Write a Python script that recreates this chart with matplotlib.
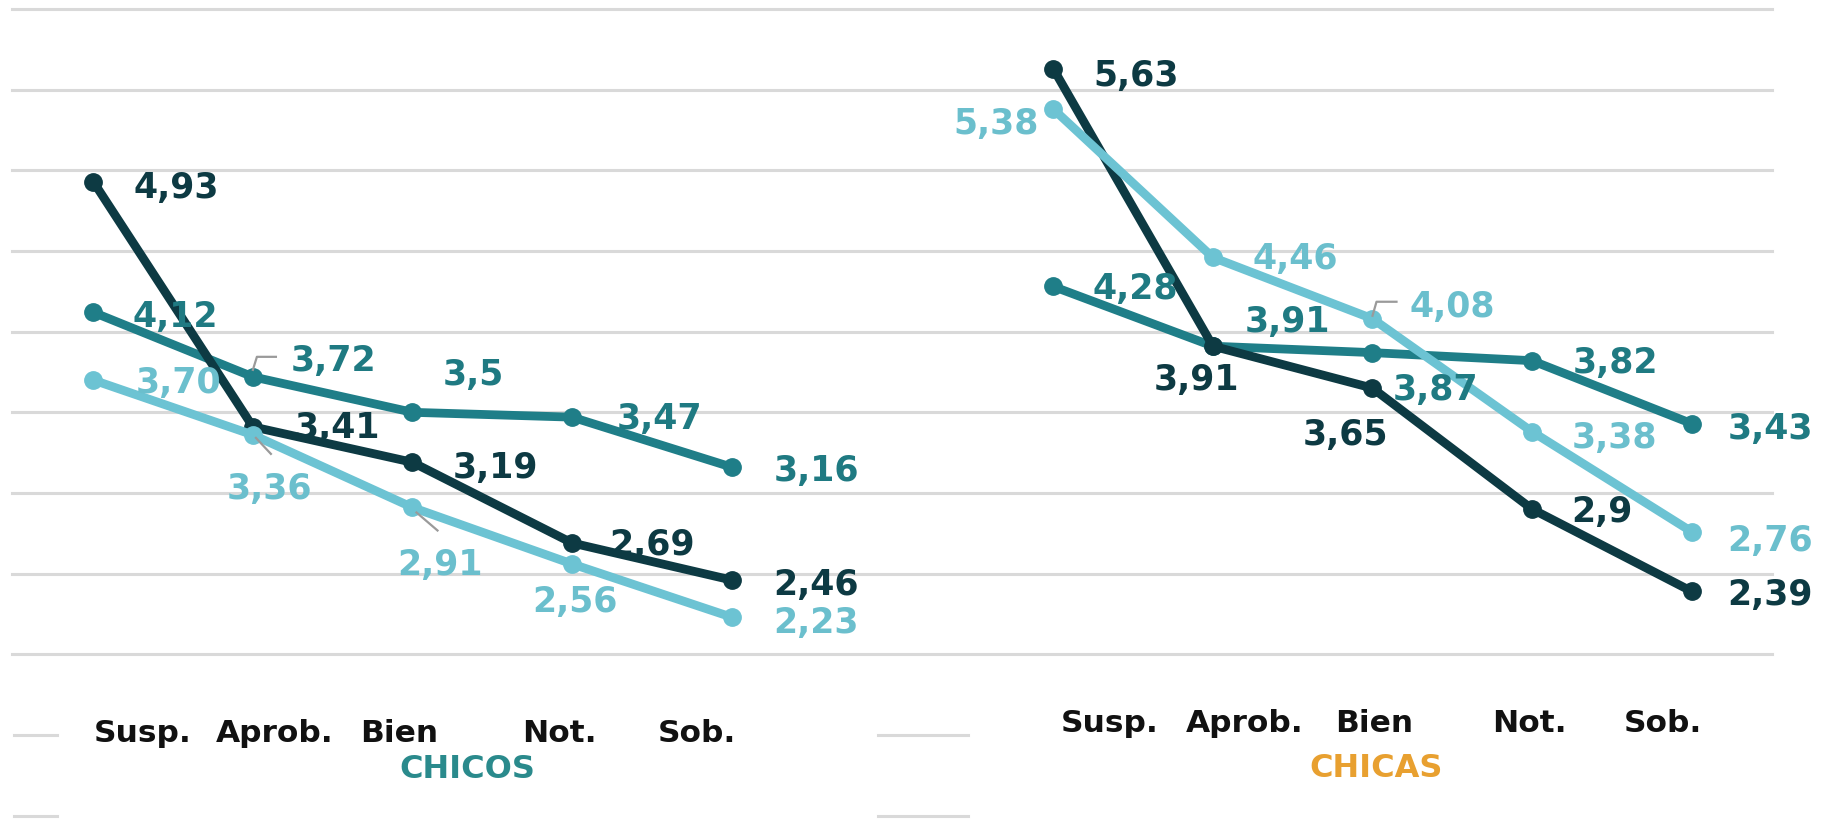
import matplotlib
matplotlib.use("Agg")
import matplotlib.pyplot as plt
from matplotlib.lines import Line2D
from matplotlib.transforms import IdentityTransform

plt.rcParams['font.family'] = ['DejaVu Sans']

# ---------------- data ----------------
categories = ["Susp.", "Aprob.", "Bien", "Not.", "Sob."]

chicos_dark = [4.93, 3.41, 3.19, 2.69, 2.46]
chicos_mid = [4.12, 3.72, 3.5, 3.47, 3.16]
chicos_light = [3.70, 3.36, 2.91, 2.56, 2.23]

chicas_dark = [5.63, 3.91, 3.65, 2.9, 2.39]
chicas_mid = [4.28, 3.91, 3.87, 3.82, 3.43]
chicas_light = [5.38, 4.46, 4.08, 3.38, 2.76]

chicos_dark_txt = ["4,93", "3,41", "3,19", "2,69", "2,46"]
chicos_mid_txt = ["4,12", "3,72", "3,5", "3,47", "3,16"]
chicos_light_txt = ["3,70", "3,36", "2,91", "2,56", "2,23"]
chicas_dark_txt = ["5,63", "3,91", "3,65", "2,9", "2,39"]
chicas_mid_txt = ["4,28", "3,91", "3,87", "3,82", "3,43"]
chicas_light_txt = ["5,38", "4,46", "4,08", "3,38", "2,76"]

grid_values = [2.0, 2.5, 3.0, 3.5, 4.0, 4.5, 5.0, 5.5, 6.0]
short_grid_values = [1.0, 1.5]

# ---------------- style ----------------
C_DARK = "#0d3a43"
C_MID = "#1f7e88"
C_LIGHT = "#6cc3d3"
C_LIGHT_TXT = "#6bbfcd"
C_MID_TXT = "#1f7a82"
C_GRID = "#d9d9d9"
C_LEAD = "#9a9a9a"

W, H, DPI = 1824, 821, 100
fig = plt.figure(figsize=(W / DPI, H / DPI), dpi=DPI)
fig.patch.set_facecolor("white")

YLIM = (0.9665, 6.056)
STEP = 159.6  # px per category


def make_axes(x0_px, zorder):
    ax = fig.add_axes([0, 0, 1, 1], zorder=zorder)
    ax.set_xlim(-x0_px / STEP, (W - x0_px) / STEP)
    ax.set_ylim(*YLIM)
    ax.axis("off")
    ax.patch.set_alpha(0)
    return ax


ax_l = make_axes(93.3, 1)
ax_r = make_axes(1053.3, 2)

# grid (drawn on left axes, which spans whole figure)
for g in grid_values:
    ax_l.axhline(g, xmin=12 / W, xmax=1772 / W, color=C_GRID, lw=2.2, zorder=0)
for g in short_grid_values:
    ax_l.axhline(g, xmin=14 / W, xmax=57 / W, color=C_GRID, lw=2.2, zorder=0)
    ax_l.axhline(g, xmin=878 / W, xmax=968 / W, color=C_GRID, lw=2.2, zorder=0)

x = list(range(len(categories)))
LW, MS = 6.3, 12.5


def draw_series(ax, vals, color, z):
    ax.plot(x, vals, color=color, lw=LW, marker="o", ms=MS,
            solid_capstyle="round", zorder=z)


draw_series(ax_l, chicos_mid, C_MID, 3)
draw_series(ax_l, chicos_dark, C_DARK, 4)
draw_series(ax_l, chicos_light, C_LIGHT, 5)
draw_series(ax_r, chicas_mid, C_MID, 3)
draw_series(ax_r, chicas_dark, C_DARK, 4)
draw_series(ax_r, chicas_light, C_LIGHT, 5)

FS = 25
HALF_DIGIT = 12.5  # px, half digit height to convert center -> baseline


def labels(ax, vals, texts, color, offsets):
    for i, (v, t) in enumerate(zip(vals, texts)):
        ha, dx, dy = offsets[i]
        ax.annotate(t, xy=(i, v), xytext=(dx, -(dy + HALF_DIGIT)),
                    textcoords="offset pixels", ha=ha, va="baseline",
                    fontsize=FS, fontweight="bold", color=color, zorder=10)


labels(ax_l, chicos_dark, chicos_dark_txt, C_DARK,
       [("left", 40, 4), ("left", 42, -1.5), ("left", 40, 3), ("left", 37, 0), ("left", 42, 2)])
labels(ax_l, chicos_mid, chicos_mid_txt, C_MID_TXT,
       [("left", 39, 2), ("left", 38, -18), ("left", 30, -40), ("left", 45, -1), ("left", 42, 1)])
labels(ax_l, chicos_light, chicos_light_txt, C_LIGHT_TXT,
       [("left", 42, 0), ("center", 17, 52), ("center", 28, 55), ("center", 3, 36), ("left", 42, 3)])

labels(ax_r, chicas_dark, chicas_dark_txt, C_DARK,
       [("left", 40, 5), ("center", -16, 31), ("center", -27, 44), ("left", 39, 0), ("left", 36, 1)])
labels(ax_r, chicas_mid, chicas_mid_txt, C_MID_TXT,
       [("left", 39, 0), ("left", 32, -27), ("left", 20, 35), ("left", 41, 0), ("left", 36, 3)])
labels(ax_r, chicas_light, chicas_light_txt, C_LIGHT_TXT,
       [("right", -15, 12), ("left", 40, -1), ("left", 37, -14), ("left", 40, 4), ("left", 36, 7)])


# small grey leader marks
def leader(ax, i, v, pts):
    px, py = ax.transData.transform((i, v))
    xs = [px + p[0] for p in pts]
    ys = [py - p[1] for p in pts]
    fig.add_artist(Line2D(xs, ys, transform=IdentityTransform(),
                          color=C_LEAD, lw=1.6, zorder=9))


leader(ax_l, 1, chicos_mid[1], [(0, -7), (4, -20), (23, -20)])
leader(ax_l, 1, chicos_light[1], [(3, 3), (18, 19)])
leader(ax_l, 2, chicos_light[2], [(4, 5), (25, 23)])
leader(ax_r, 2, chicas_light[2], [(0, -3), (4, -17), (24, -17)])

# category labels (px offsets from point centers)
cat_off_l = [49, 22, -13, -13, -35]
cat_off_r = [56, 32, 2, -3, -29]
for i, c in enumerate(categories):
    ax_l.text(i + cat_off_l[i] / STEP, 1 - 741.7 / H, c,
              transform=ax_l.get_xaxis_transform(), ha="center", va="baseline",
              fontsize=22.5, fontweight="bold", color="#111111")
    ax_r.text(i + cat_off_r[i] / STEP, 1 - 731.7 / H, c,
              transform=ax_r.get_xaxis_transform(), ha="center", va="baseline",
              fontsize=22.5, fontweight="bold", color="#111111")

fig.text(467.5 / W, 1 - 778 / H, "CHICOS", ha="center", va="baseline",
         fontsize=23, fontweight="bold", color="#2a8a8c")
fig.text(1376 / W, 1 - 777 / H, "CHICAS", ha="center", va="baseline",
         fontsize=23, fontweight="bold", color="#e8a030")

fig.savefig("out.png", dpi=DPI, facecolor="white")
